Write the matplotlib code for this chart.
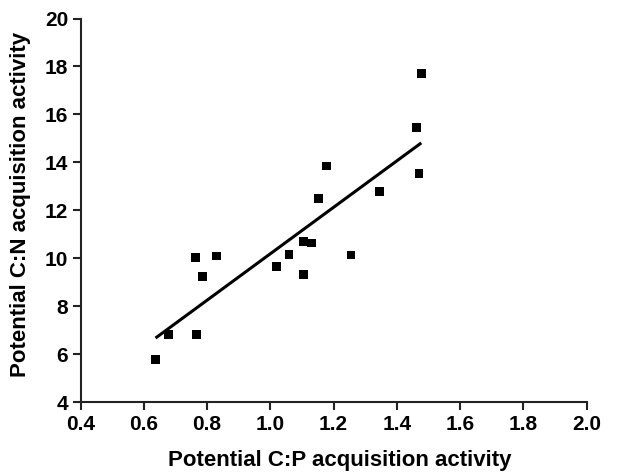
import numpy as np
import matplotlib
matplotlib.use("Agg")
import matplotlib.pyplot as plt

plt.rcParams['font.family'] = ['Liberation Sans', 'DejaVu Sans']
plt.rcParams['font.weight'] = 'bold'

cp_ratio = [1.477, 1.463, 1.470, 1.177, 1.344, 1.151, 1.105, 1.131, 1.059,
            1.255, 1.019, 1.105, 0.764, 0.831, 0.786, 0.679, 0.766, 0.637]
cn_ratio = [17.70, 15.45, 13.55, 13.85, 12.79, 12.50, 10.72, 10.64, 10.16,
            10.14, 9.65, 9.34, 10.03, 10.10, 9.23, 6.84, 6.84, 5.78]

xticks = [0.4, 0.6, 0.8, 1.0, 1.2, 1.4, 1.6, 1.8, 2.0]
yticks = [4, 6, 8, 10, 12, 14, 16, 18, 20]

fig = plt.figure(figsize=(6.17, 4.75), dpi=100)
ax = fig.add_axes([0.1305, 0.153, 0.8205, 0.808])

x = np.array(cp_ratio)
y = np.array(cn_ratio)
slope, intercept = np.polyfit(x, y, 1)
xl = np.array([x.min(), x.max()])
ax.plot(xl, slope * xl + intercept, color='black', lw=2.2, solid_capstyle='butt')
ax.scatter(x, y, marker='s', s=40, color='black', edgecolors='none', zorder=3)

ax.set_xlim(0.4, 2.0)
ax.set_ylim(4, 20)
ax.set_xticks(xticks)
ax.set_xticklabels([f"{v:.1f}" for v in xticks])
ax.set_yticks(yticks)
ax.set_yticklabels([str(v) for v in yticks])

for s in ['top', 'right']:
    ax.spines[s].set_visible(False)
for s in ['left', 'bottom']:
    ax.spines[s].set_linewidth(1.5)
    ax.spines[s].set_color('#222222')
ax.tick_params(axis='both', direction='out', length=6, width=1.5, color='#222222',
               labelsize=15, pad=3)
for lab in ax.get_xticklabels() + ax.get_yticklabels():
    lab.set_fontweight('bold')

ax.set_xlabel('Potential C:P acquisition activity', fontsize=16, fontweight='bold', labelpad=12)
ax.set_ylabel('Potential C:N acquisition activity', fontsize=16, fontweight='bold', labelpad=10)
ax.xaxis.label.set_x(0.513)
ax.yaxis.label.set_y(0.515)

fig.savefig('out.png', dpi=100)
